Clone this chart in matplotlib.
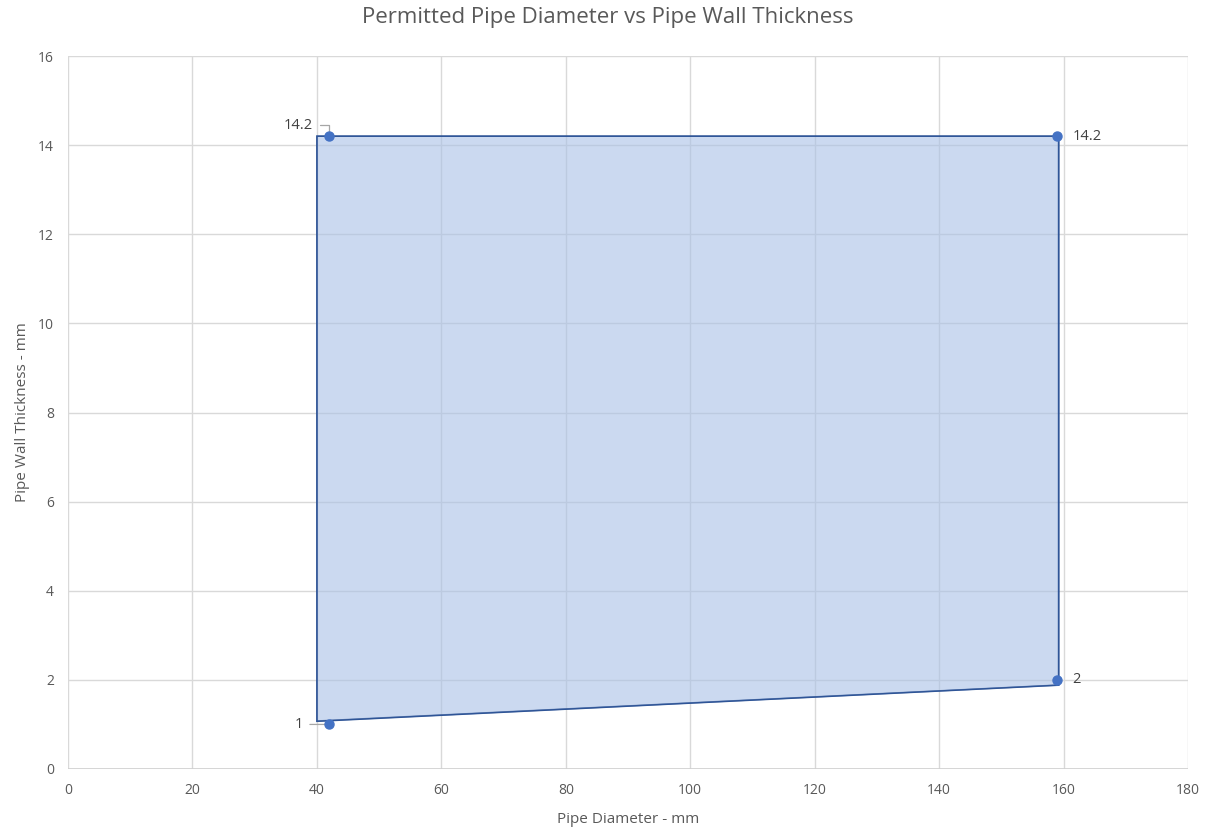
import matplotlib.pyplot as plt
from matplotlib.patches import Polygon

# permitted region (shaded area)
area_x = [40, 40, 159.2, 159.2]
area_y = [1.07, 14.2, 14.2, 1.88]

# marked points with labels
pt_x = [42, 42, 159, 159]
pt_y = [1, 14.2, 14.2, 2]
pt_labels = ['1', '14.2', '14.2', '2']

x_ticks = [0, 20, 40, 60, 80, 100, 120, 140, 160, 180]
y_ticks = [0, 2, 4, 6, 8, 10, 12, 14, 16]

plt.rcParams['font.family'] = ['Open Sans', 'DejaVu Sans']
grey = '#595959'

fig = plt.figure(figsize=(12.15, 8.34), dpi=100)
ax = fig.add_axes([68 / 1215, 1 - 769 / 834, 1120 / 1215, 713 / 834])

ax.set_xlim(0, 180)
ax.set_ylim(0, 16)
ax.set_xticks(x_ticks)
ax.set_yticks(y_ticks)
ax.grid(True, color='#d9d9d9', linewidth=1)
ax.set_axisbelow(True)
for s in ax.spines.values():
    s.set_visible(False)
ax.axhline(0, color='#d0d0d0', linewidth=1.2, zorder=1)
ax.tick_params(length=0, labelsize=10, colors=grey)
ax.tick_params(axis='x', pad=10)
ax.tick_params(axis='y', pad=10)

poly = Polygon(list(zip(area_x, area_y)), closed=True, facecolor='#a9c0e6', alpha=0.6,
               edgecolor='#2f5597', linewidth=1.1, zorder=2)
ax.add_patch(poly)
ax.add_patch(Polygon(list(zip(area_x, area_y)), closed=True, fill=False,
                     edgecolor='#2f5597', linewidth=1.1, zorder=3))

ax.plot(pt_x, pt_y, 'o', color='#4472c4', markersize=6.5, zorder=4)

# data labels
lbl = dict(fontsize=10.5, color='#404040', va='center')
ax.annotate(pt_labels[0], (pt_x[0], pt_y[0]), xytext=(-19, 0), textcoords='offset points',
            ha='right', **lbl,
            arrowprops=dict(arrowstyle='-', color='#a6a6a6', lw=0.9, shrinkA=3, shrinkB=3))
ax.annotate(pt_labels[1], (pt_x[1], pt_y[1]), xytext=(-12, 8), textcoords='offset points',
            ha='right', **lbl,
            arrowprops=dict(arrowstyle='-', color='#a6a6a6', lw=0.9, shrinkA=3, shrinkB=3,
                            connectionstyle='angle,angleA=0,angleB=90,rad=0'))
ax.annotate(pt_labels[2], (pt_x[2], pt_y[2]), xytext=(11, 0), textcoords='offset points',
            ha='left', **lbl)
ax.annotate(pt_labels[3], (pt_x[3], pt_y[3]), xytext=(11, 0), textcoords='offset points',
            ha='left', **lbl)

ax.set_xlabel('Pipe Diameter - mm', fontsize=11, color=grey)
ax.xaxis.set_label_coords(0.5, -(812 - 769) / 713)
ax.set_ylabel('Pipe Wall Thickness - mm', fontsize=11, color=grey)
ax.yaxis.set_label_coords(-(68 - 30) / 1120, 0.5)
fig.suptitle('Permitted Pipe Diameter vs Pipe Wall Thickness', fontsize=16, color=grey,
             y=1 - 18 / 834, va='center')

fig.savefig('out.png', dpi=100)
